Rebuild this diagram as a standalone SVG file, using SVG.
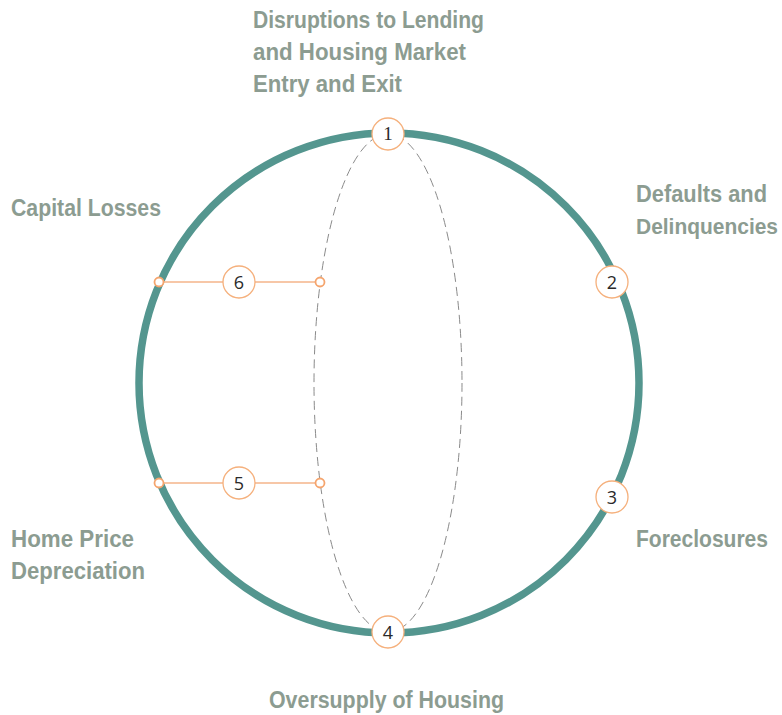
<svg xmlns="http://www.w3.org/2000/svg" width="782" height="715" viewBox="0 0 782 715">
  <style>
    .lbl { font-family: "Liberation Sans", Arial, sans-serif; font-weight: bold; font-size: 23px; fill: #8c9c91; }
    .num { font-family: "Open Sans", "Noto Sans", sans-serif; font-size: 18px; fill: #2a2a2a; text-anchor: middle; }
    .node circle.badge { fill: #ffffff; stroke: #f5b07c; stroke-width: 1.3; }
    .dot { fill: #ffffff; stroke: #f5a56e; stroke-width: 1.8; }
    .link { stroke: #f5b58a; stroke-width: 1.3; fill: none; }
  </style>

  <rect width="782" height="715" fill="#ffffff"/>

  <!-- main ring -->
  <circle cx="389" cy="383" r="250" fill="none" stroke="#54968f" stroke-width="7.5"/>

  <!-- connectors -->
  <g id="connectors">
    <ellipse cx="388" cy="383" rx="74" ry="249" fill="none" stroke="#8a8a8a" stroke-width="1" stroke-dasharray="9 5"/>
    <line class="link" x1="159" y1="282" x2="320" y2="282"/>
    <line class="link" x1="159" y1="483" x2="320" y2="483"/>
    <circle class="dot" cx="159" cy="282" r="4.5"/>
    <circle class="dot" cx="320" cy="282" r="4.5"/>
    <circle class="dot" cx="159" cy="483" r="4.5"/>
    <circle class="dot" cx="320" cy="483" r="4.5"/>
  </g>

  <!-- numbered nodes -->
  <g id="node1" class="node">
    <circle class="badge" cx="388" cy="134" r="16"/>
    <text class="num" x="388" y="140" style="font-family:'Liberation Serif',serif;font-size:19px">1</text>
  </g>
  <g id="node2" class="node">
    <circle class="badge" cx="612" cy="282" r="16"/>
    <text class="num" x="612" y="288.5">2</text>
  </g>
  <g id="node3" class="node">
    <circle class="badge" cx="612" cy="497" r="16"/>
    <text class="num" x="612" y="503.5">3</text>
  </g>
  <g id="node4" class="node">
    <circle class="badge" cx="388" cy="632" r="16"/>
    <text class="num" x="388" y="638.5">4</text>
  </g>
  <g id="node5" class="node">
    <circle class="badge" cx="239" cy="483" r="16"/>
    <text class="num" x="239" y="489.5">5</text>
  </g>
  <g id="node6" class="node">
    <circle class="badge" cx="239" cy="282" r="16"/>
    <text class="num" x="239" y="288.5">6</text>
  </g>

  <!-- labels -->
  <g id="label1">
    <text class="lbl" x="253" y="28" textLength="231" lengthAdjust="spacingAndGlyphs">Disruptions to Lending</text>
    <text class="lbl" x="253" y="60" textLength="213" lengthAdjust="spacingAndGlyphs">and Housing Market</text>
    <text class="lbl" x="253" y="92" textLength="149" lengthAdjust="spacingAndGlyphs">Entry and Exit</text>
  </g>
  <g id="label2">
    <text class="lbl" x="636" y="202" textLength="131" lengthAdjust="spacingAndGlyphs">Defaults and</text>
    <text class="lbl" x="636" y="234" textLength="142" lengthAdjust="spacingAndGlyphs" style="font-size:21.5px">Delinquencies</text>
  </g>
  <g id="label3">
    <text class="lbl" x="636" y="547" textLength="132" lengthAdjust="spacingAndGlyphs">Foreclosures</text>
  </g>
  <g id="label4">
    <text class="lbl" x="269" y="708" textLength="235" lengthAdjust="spacingAndGlyphs">Oversupply of Housing</text>
  </g>
  <g id="label5">
    <text class="lbl" x="11" y="547" textLength="123" lengthAdjust="spacingAndGlyphs">Home Price</text>
    <text class="lbl" x="11" y="579" textLength="134" lengthAdjust="spacingAndGlyphs">Depreciation</text>
  </g>
  <g id="label6">
    <text class="lbl" x="11" y="216" textLength="150" lengthAdjust="spacingAndGlyphs">Capital Losses</text>
  </g>
</svg>
